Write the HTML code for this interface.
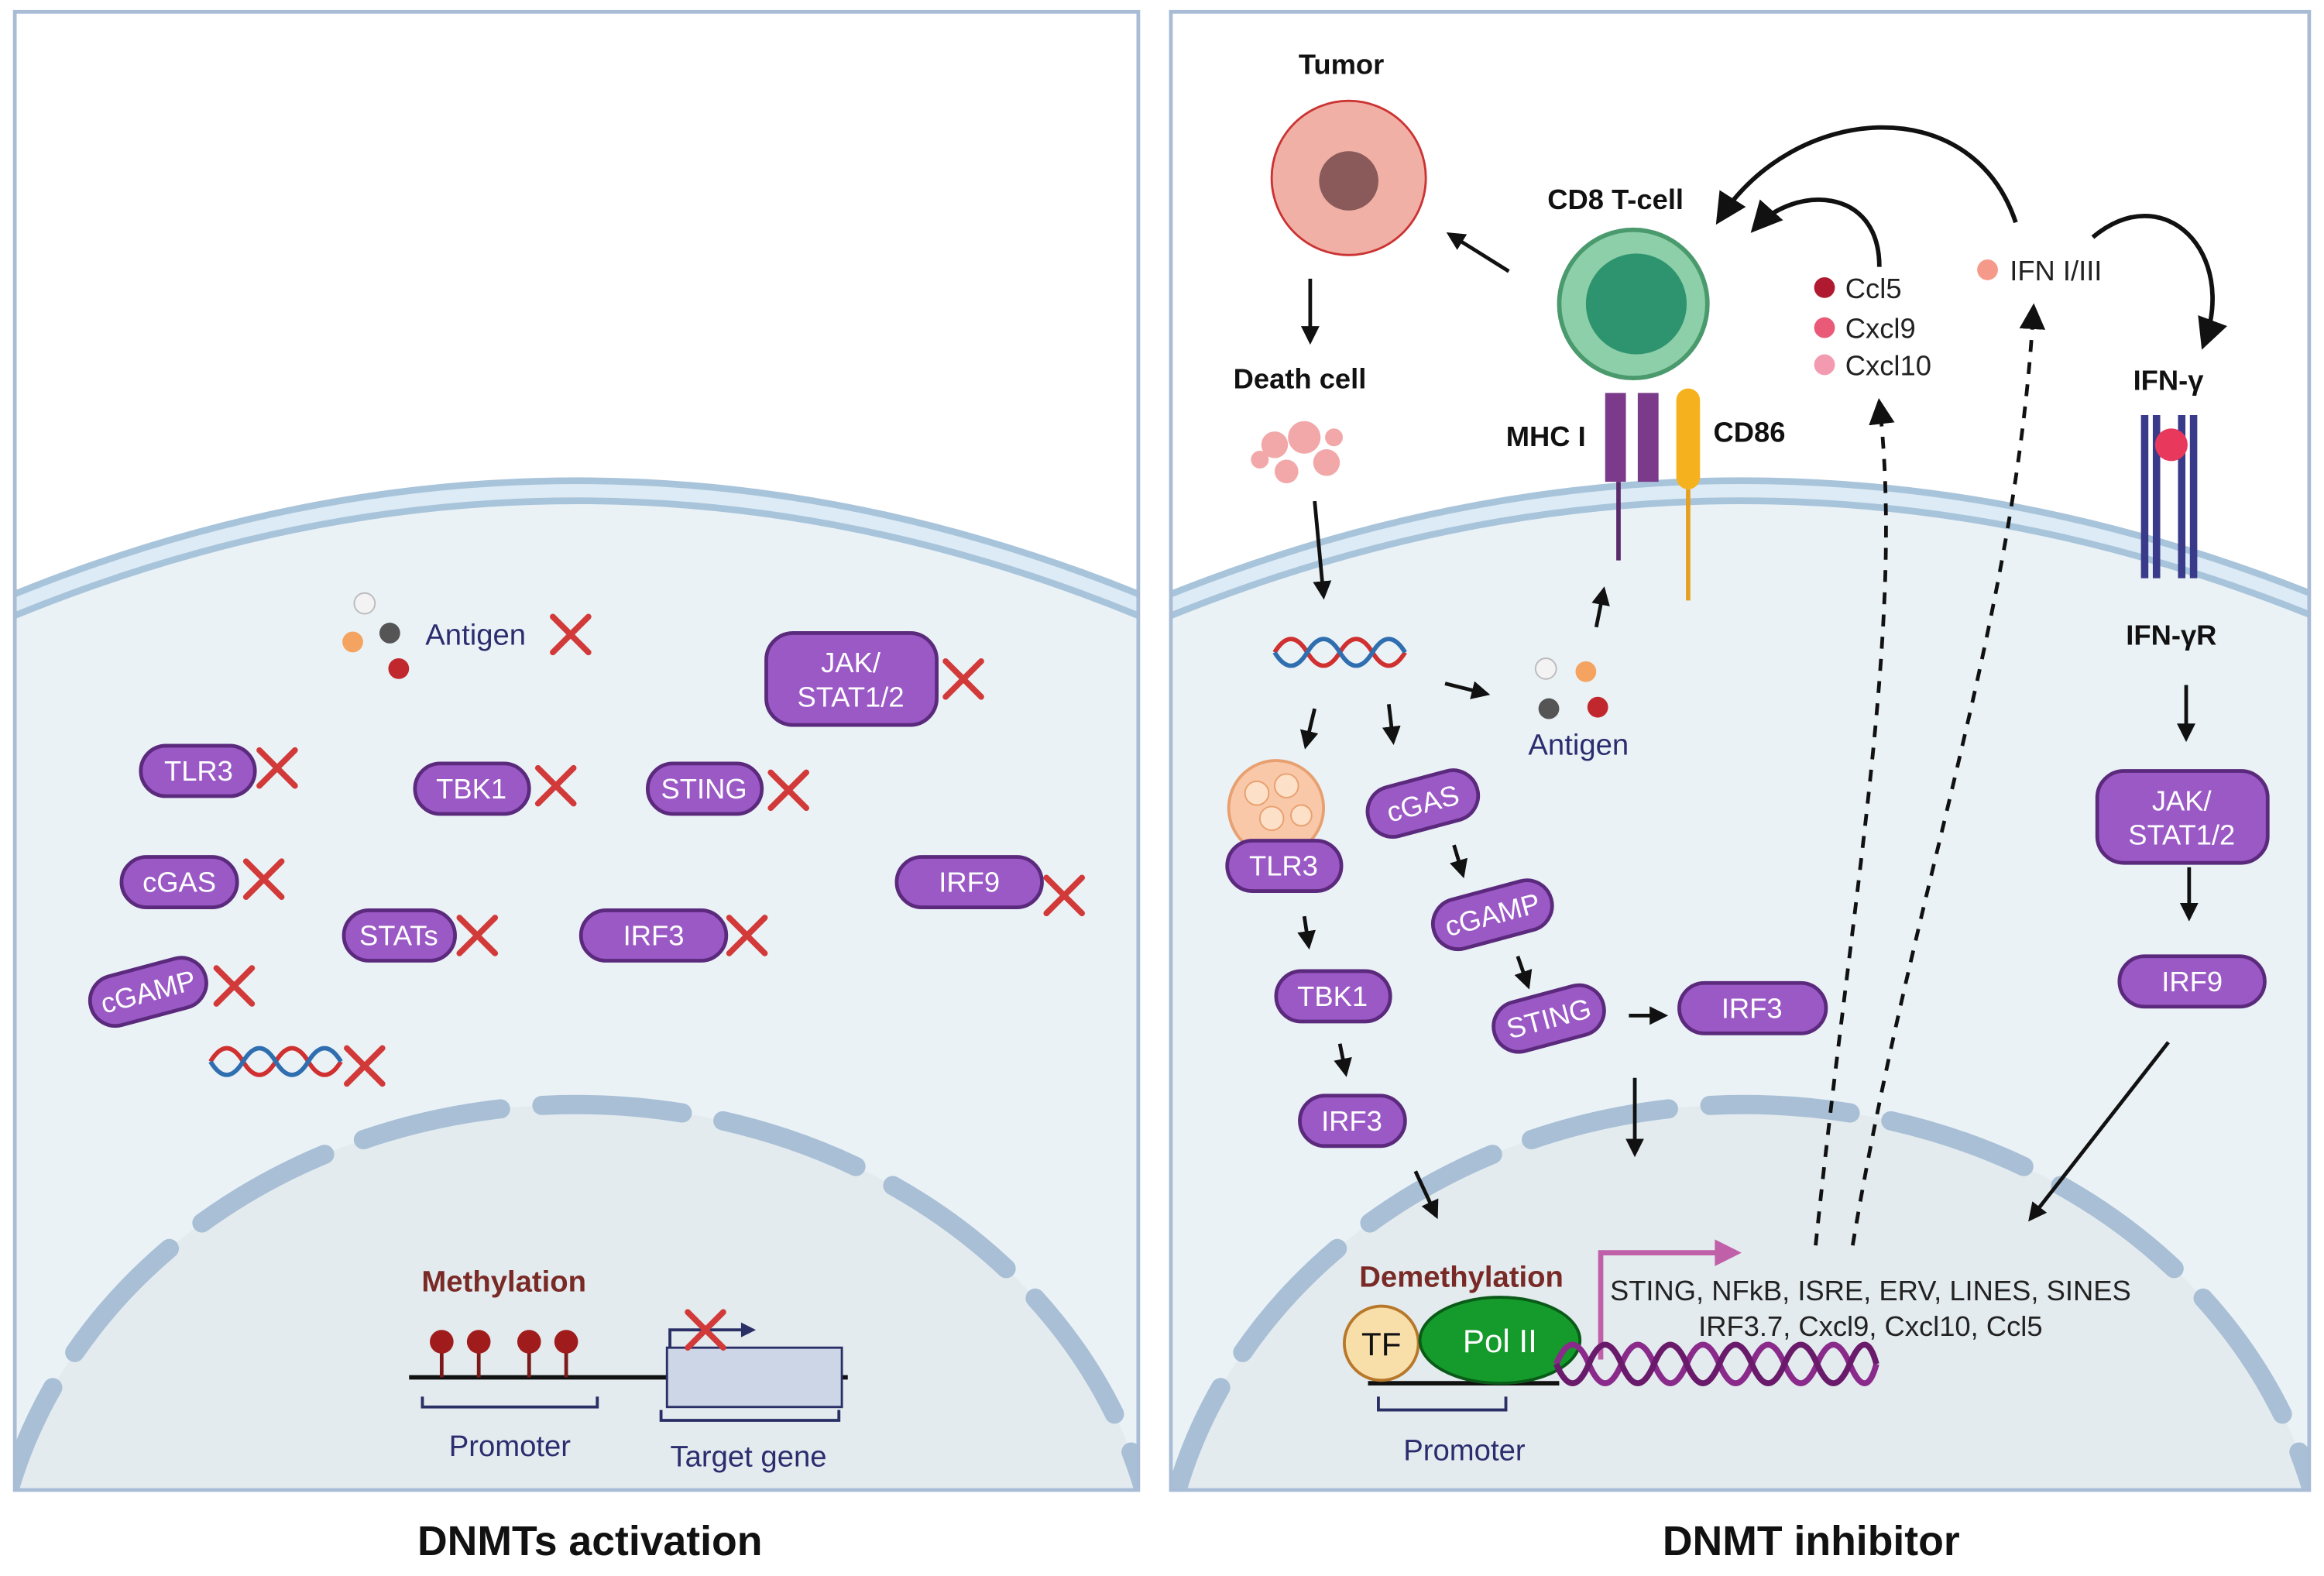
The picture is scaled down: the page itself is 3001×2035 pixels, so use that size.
<!DOCTYPE html>
<html><head><meta charset="utf-8"><style>
html,body{margin:0;padding:0;background:#fff;width:3001px;height:2035px;overflow:hidden;}
svg{display:block;}
text{font-family:"Liberation Sans",sans-serif;}
.pt{fill:#fff;font-size:19px;text-anchor:middle;dominant-baseline:central;}
.lb{font-weight:bold;font-size:19px;fill:#111;}
</style></head><body>
<svg width="3001" height="2035" viewBox="0 0 1568 1063" preserveAspectRatio="none" xmlns="http://www.w3.org/2000/svg">
<defs>
<marker id="ah" viewBox="0 0 10 10" refX="8" refY="5" markerWidth="5" markerHeight="5" orient="auto"><path d="M0,0 L10,5 L0,10 z" fill="#111"/></marker>
<marker id="ahb" viewBox="0 0 10 10" refX="8" refY="5" markerWidth="7" markerHeight="7" orient="auto"><path d="M0,0 L10,5 L0,10 z" fill="#111"/></marker>
<clipPath id="cl"><rect x="10" y="8" width="758" height="997"/></clipPath>
<clipPath id="cr"><rect x="790" y="8" width="768" height="997"/></clipPath>
<g id="x"><path d="M-12,-12 L12,12 M12,-12 L-12,12" stroke="#d23a3a" stroke-width="4" stroke-linecap="round"/></g>
</defs>
<rect width="1568" height="1063" fill="#fff"/>

<!-- LEFT PANEL -->
<g clip-path="url(#cl)">
<path d="M0,412 Q389,250 778,412 L778,1010 L0,1010 z" fill="#eaf2f6"/>
<path d="M0,412 Q389,250 778,412" fill="none" stroke="#a8c4db" stroke-width="18"/>
<path d="M0,412 Q389,250 778,412" fill="none" stroke="#dcebf5" stroke-width="9"/>
<ellipse cx="389" cy="1090" rx="395" ry="345" fill="#e3ebee"/>
<ellipse cx="389" cy="1090" rx="395" ry="345" fill="none" stroke="#a9bfd6" stroke-width="13" stroke-dasharray="95,28" stroke-linecap="round"/>
</g>
<rect x="10" y="8" width="758" height="997" fill="none" stroke="#a9bcd6" stroke-width="2.5"/>

<circle cx="246" cy="407" r="7" fill="#f3f3f3" stroke="#bbb"/>
<circle cx="238" cy="433" r="7" fill="#f4a460"/>
<circle cx="263" cy="427" r="7" fill="#555"/>
<circle cx="269" cy="451" r="7" fill="#c0282d"/>
<text x="287" y="435" font-size="20" fill="#2b2d6e">Antigen</text>
<use href="#x" x="385" y="428"/>

<rect x="517" y="427" width="115" height="62" rx="18" fill="#9b59c6" stroke="#5b2a7d" stroke-width="2.5"/>
<text class="pt" x="574" y="447">JAK/</text><text class="pt" x="574" y="470">STAT1/2</text>
<use href="#x" x="650" y="458"/>

<rect x="95" y="503" width="77" height="34" rx="17" fill="#9b59c6" stroke="#5b2a7d" stroke-width="2.5"/><text class="pt" x="134" y="520">TLR3</text><use href="#x" x="187" y="518"/>
<rect x="280" y="515" width="77" height="34" rx="17" fill="#9b59c6" stroke="#5b2a7d" stroke-width="2.5"/><text class="pt" x="318" y="532">TBK1</text><use href="#x" x="375" y="530"/>
<rect x="437" y="515" width="77" height="34" rx="17" fill="#9b59c6" stroke="#5b2a7d" stroke-width="2.5"/><text class="pt" x="475" y="532">STING</text><use href="#x" x="532" y="533"/>
<rect x="82" y="578" width="78" height="34" rx="17" fill="#9b59c6" stroke="#5b2a7d" stroke-width="2.5"/><text class="pt" x="121" y="595">cGAS</text><use href="#x" x="178" y="593"/>
<rect x="605" y="578" width="98" height="34" rx="17" fill="#9b59c6" stroke="#5b2a7d" stroke-width="2.5"/><text class="pt" x="654" y="595">IRF9</text><use href="#x" x="718" y="604"/>
<rect x="232" y="614" width="75" height="34" rx="17" fill="#9b59c6" stroke="#5b2a7d" stroke-width="2.5"/><text class="pt" x="269" y="631">STATs</text><use href="#x" x="322" y="631"/>
<rect x="392" y="614" width="98" height="34" rx="17" fill="#9b59c6" stroke="#5b2a7d" stroke-width="2.5"/><text class="pt" x="441" y="631">IRF3</text><use href="#x" x="504" y="631"/>
<g transform="rotate(-15 100 669)"><rect x="60" y="652" width="80" height="34" rx="17" fill="#9b59c6" stroke="#5b2a7d" stroke-width="2.5"/><text class="pt" x="100" y="669">cGAMP</text></g><use href="#x" x="158" y="665"/>
<path d="M142,716 q11,-18 22,0 t22,0 t22,0 t22,0" fill="none" stroke="#d03030" stroke-width="3"/>
<path d="M142,716 q11,18 22,0 t22,0 t22,0 t22,0" fill="none" stroke="#2f6fb0" stroke-width="3"/>
<use href="#x" x="246" y="719"/>

<text x="340" y="871" text-anchor="middle" font-size="20" font-weight="bold" fill="#7a2a26">Methylation</text>
<line x1="276" y1="929" x2="572" y2="929" stroke="#111" stroke-width="3"/>
<g stroke="#7a1a1a" stroke-width="2.5"><line x1="298" y1="906" x2="298" y2="929"/><line x1="323" y1="906" x2="323" y2="929"/><line x1="357" y1="906" x2="357" y2="929"/><line x1="382" y1="906" x2="382" y2="929"/></g>
<g fill="#a01c1c"><circle cx="298" cy="905" r="8"/><circle cx="323" cy="905" r="8"/><circle cx="357" cy="905" r="8"/><circle cx="382" cy="905" r="8"/></g>
<rect x="450" y="909" width="118" height="40" fill="#ccd6e6" stroke="#2a2f66" stroke-width="1.5"/>
<path d="M452,909 V897 H500" fill="none" stroke="#2a2f66" stroke-width="2"/><path d="M500,892 L510,897 L500,902z" fill="#2a2f66"/>
<use href="#x" x="476" y="897"/>
<path d="M285,942 v7 h118 v-7 M446,951 v7 h120 v-7" fill="none" stroke="#2a2f66" stroke-width="2"/>
<text x="344" y="982" text-anchor="middle" font-size="20" fill="#2b2d6e">Promoter</text>
<text x="505" y="989" text-anchor="middle" font-size="20" fill="#2b2d6e">Target gene</text>

<!-- RIGHT PANEL -->
<g clip-path="url(#cr)">
<path d="M780,412 Q1175,250 1570,412 L1570,1010 L780,1010 z" fill="#eaf2f6"/>
<path d="M780,412 Q1175,250 1570,412" fill="none" stroke="#a8c4db" stroke-width="18"/>
<path d="M780,412 Q1175,250 1570,412" fill="none" stroke="#dcebf5" stroke-width="9"/>
<ellipse cx="1177" cy="1090" rx="395" ry="345" fill="#e3ebee"/>
<ellipse cx="1177" cy="1090" rx="395" ry="345" fill="none" stroke="#a9bfd6" stroke-width="13" stroke-dasharray="95,28" stroke-linecap="round"/>
</g>
<rect x="790" y="8" width="768" height="997" fill="none" stroke="#a9bcd6" stroke-width="2.5"/>

<text class="lb" x="905" y="50" text-anchor="middle">Tumor</text>
<circle cx="910" cy="120" r="52" fill="#f0b0a5" stroke="#c33" stroke-width="1.5"/>
<circle cx="910" cy="122" r="20" fill="#8a5a5a"/>
<text class="lb" x="877" y="262" text-anchor="middle">Death cell</text>
<g fill="#f2a8a8"><circle cx="860" cy="300" r="9"/><circle cx="880" cy="295" r="11"/><circle cx="895" cy="312" r="9"/><circle cx="868" cy="318" r="8"/><circle cx="850" cy="310" r="6"/><circle cx="900" cy="295" r="6"/></g>
<text class="lb" x="1090" y="141" text-anchor="middle">CD8 T-cell</text>
<circle cx="1102" cy="205" r="50" fill="#8ccfa8" stroke="#4a9a6e" stroke-width="3"/>
<circle cx="1104" cy="205" r="34" fill="#2e9470"/>
<text class="lb" x="1043" y="301" text-anchor="middle">MHC I</text>
<path d="M1083,265 h14 v60 h-14z M1105,265 h14 v60 h-14z" fill="#7b3a8a"/>
<line x1="1092" y1="325" x2="1092" y2="378" stroke="#5a2a6a" stroke-width="3"/>
<rect x="1131" y="262" width="16" height="68" rx="8" fill="#f5b21e"/>
<line x1="1139" y1="330" x2="1139" y2="405" stroke="#e6a020" stroke-width="3"/>
<text class="lb" x="1156" y="298">CD86</text>

<circle cx="1231" cy="194" r="7" fill="#b01a30"/><text x="1245" y="201" font-size="19" fill="#222">Ccl5</text>
<circle cx="1231" cy="221" r="7" fill="#e85a78"/><text x="1245" y="228" font-size="19" fill="#222">Cxcl9</text>
<circle cx="1231" cy="246" r="7" fill="#f39ab0"/><text x="1245" y="253" font-size="19" fill="#222">Cxcl10</text>
<circle cx="1341" cy="182" r="7" fill="#f59a8a"/><text x="1356" y="189" font-size="19" fill="#222">IFN I/III</text>

<text class="lb" x="1463" y="263" text-anchor="middle">IFN-γ</text>
<path d="M1447,280 v110 M1455,280 v110 M1472,280 v110 M1480,280 v110" stroke="#3a3a8a" stroke-width="5"/>
<circle cx="1465" cy="300" r="11" fill="#e8385c"/>
<text class="lb" x="1465" y="435" text-anchor="middle">IFN-γR</text>

<path d="M1360,150 C1330,60 1210,70 1160,148" fill="none" stroke="#111" stroke-width="3" marker-end="url(#ahb)"/>
<path d="M1268,180 C1268,125 1210,125 1184,154" fill="none" stroke="#111" stroke-width="3" marker-end="url(#ahb)"/>
<path d="M1412,160 C1460,120 1510,170 1487,232" fill="none" stroke="#111" stroke-width="3" marker-end="url(#ahb)"/>
<path d="M1225,840 C1250,600 1285,420 1268,272" fill="none" stroke="#111" stroke-width="2.5" stroke-dasharray="8,7" marker-end="url(#ahb)"/>
<path d="M1250,840 C1290,600 1360,420 1372,208" fill="none" stroke="#111" stroke-width="2.5" stroke-dasharray="8,7" marker-end="url(#ahb)"/>

<g stroke="#111" stroke-width="2.5" fill="none" marker-end="url(#ah)">
<line x1="1018" y1="183" x2="978" y2="158"/>
<line x1="884" y1="188" x2="884" y2="230"/>
<line x1="887" y1="338" x2="893" y2="402"/>
<line x1="1077" y1="423" x2="1082" y2="398"/>
<line x1="887" y1="478" x2="881" y2="503"/>
<line x1="937" y1="475" x2="940" y2="500"/>
<line x1="975" y1="461" x2="1003" y2="468"/>
<line x1="981" y1="570" x2="987" y2="590"/>
<line x1="880" y1="618" x2="883" y2="638"/>
<line x1="1024" y1="645" x2="1031" y2="665"/>
<line x1="904" y1="704" x2="908" y2="724"/>
<line x1="1099" y1="685" x2="1123" y2="685"/>
<line x1="955" y1="790" x2="969" y2="820"/>
<line x1="1103" y1="727" x2="1103" y2="778"/>
<line x1="1475" y1="462" x2="1475" y2="498"/>
<line x1="1477" y1="585" x2="1477" y2="619"/>
<line x1="1463" y1="703" x2="1370" y2="822"/>
</g>

<path d="M860,440 q11,-18 22,0 t22,0 t22,0 t22,0" fill="none" stroke="#d03030" stroke-width="3"/>
<path d="M860,440 q11,18 22,0 t22,0 t22,0 t22,0" fill="none" stroke="#2f6fb0" stroke-width="3"/>
<circle cx="1043" cy="451" r="7" fill="#f3f3f3" stroke="#bbb"/>
<circle cx="1070" cy="453" r="7" fill="#f4a460"/>
<circle cx="1045" cy="478" r="7" fill="#555"/>
<circle cx="1078" cy="477" r="7" fill="#c0282d"/>
<text x="1065" y="509" font-size="20" fill="#2b2d6e" text-anchor="middle">Antigen</text>

<circle cx="861" cy="545" r="32" fill="#f8c8a8" stroke="#e8a070" stroke-width="2"/>
<g fill="#fde0c8" stroke="#e8a070"><circle cx="848" cy="535" r="8"/><circle cx="868" cy="530" r="8"/><circle cx="858" cy="552" r="8"/><circle cx="878" cy="550" r="7"/></g>

<g stroke="#5b2a7d" stroke-width="2.5" fill="#9b59c6">
<rect x="828" y="567" width="77" height="34" rx="17"/>
<rect x="861" y="655" width="77" height="34" rx="17"/>
<rect x="1133" y="663" width="99" height="34" rx="17"/>
<rect x="877" y="739" width="71" height="34" rx="17"/>
<rect x="1415" y="520" width="115" height="62" rx="18"/>
<rect x="1430" y="645" width="98" height="34" rx="17"/>
<rect x="922" y="525" width="76" height="34" rx="17" transform="rotate(-15 960 542)"/>
<rect x="966" y="600" width="82" height="34" rx="17" transform="rotate(-15 1007 617)"/>
<rect x="1007" y="670" width="76" height="34" rx="17" transform="rotate(-15 1045 687)"/>
</g>
<text class="pt" x="866" y="584">TLR3</text>
<text class="pt" x="899" y="672">TBK1</text>
<text class="pt" x="1182" y="680">IRF3</text>
<text class="pt" x="912" y="756">IRF3</text>
<text class="pt" x="1472" y="540">JAK/</text><text class="pt" x="1472" y="563">STAT1/2</text>
<text class="pt" x="1479" y="662">IRF9</text>
<text class="pt" x="960" y="542" transform="rotate(-15 960 542)">cGAS</text>
<text class="pt" x="1007" y="617" transform="rotate(-15 1007 617)">cGAMP</text>
<text class="pt" x="1045" y="687" transform="rotate(-15 1045 687)">STING</text>

<text x="986" y="868" text-anchor="middle" font-size="20" font-weight="bold" fill="#7a2a26">Demethylation</text>
<line x1="923" y1="933" x2="1052" y2="933" stroke="#111" stroke-width="3"/>
<circle cx="932" cy="906" r="25" fill="#f8dfaa" stroke="#b8782a" stroke-width="2"/>
<text x="932" y="914" text-anchor="middle" font-size="22" fill="#111">TF</text>
<ellipse cx="1012" cy="904" rx="54" ry="29" fill="#159a2c" stroke="#0a5a18" stroke-width="2"/>
<text x="1012" y="912" text-anchor="middle" font-size="22" fill="#fff">Pol II</text>
<path d="M1080,917 V845 H1160" fill="none" stroke="#c060a8" stroke-width="3.5"/>
<path d="M1157,836 L1175,845 L1157,854z" fill="#c060a8"/>
<path d="M1050,920 q11,-26 22,0 t22,0 t22,0 t22,0 t22,0 t22,0 t22,0 t22,0 t22,0 t18,0" fill="none" stroke="#8a2a8a" stroke-width="4"/>
<path d="M1050,920 q11,26 22,0 t22,0 t22,0 t22,0 t22,0 t22,0 t22,0 t22,0 t22,0 t18,0" fill="none" stroke="#6a1a6a" stroke-width="4"/>
<text x="1262" y="877" text-anchor="middle" font-size="19" fill="#222">STING, NFkB, ISRE, ERV, LINES, SINES</text>
<text x="1262" y="901" text-anchor="middle" font-size="19" fill="#222">IRF3.7, Cxcl9, Cxcl10, Ccl5</text>
<path d="M930,942 v9 h86 v-9" fill="none" stroke="#2a2f66" stroke-width="2"/>
<text x="988" y="985" text-anchor="middle" font-size="20" fill="#2b2d6e">Promoter</text>

<text x="398" y="1049" text-anchor="middle" font-size="28" font-weight="bold" fill="#111">DNMTs activation</text>
<text x="1222" y="1049" text-anchor="middle" font-size="28" font-weight="bold" fill="#111">DNMT inhibitor</text>
</svg>
</body></html>
